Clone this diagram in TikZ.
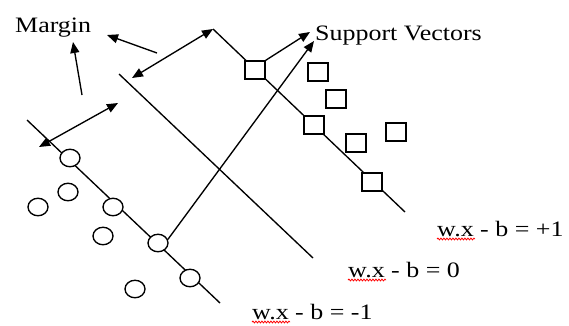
\documentclass[tikz,border=0pt]{standalone}
\usepackage{graphicx}
\usepackage{fontspec}
\setmainfont{Liberation Serif}
\usetikzlibrary{arrows.meta,shapes.geometric,decorations.pathmorphing,calc}
\newcommand\widetxt[1]{\scalebox{1.18}[1]{#1}}
\begin{document}
\begin{tikzpicture}[x=1pt,y=-1pt,
  ln/.style={line width=1.35pt,black},
  arr/.style={ln,-{Triangle[length=11pt,width=9pt]}},
  darr/.style={ln,{Triangle[length=11pt,width=9pt]}-{Triangle[length=11pt,width=9pt]}},
  ptc/.style={draw,ellipse,line width=1.35pt,fill=white,minimum width=20pt,minimum height=17.5pt,inner sep=0pt},
  pts/.style={draw,rectangle,line width=1.35pt,fill=white,minimum width=20pt,minimum height=18pt,inner sep=0pt},
  lbl/.style={inner sep=0pt,anchor=base west,font=\fontsize{22}{26}\selectfont},
  squig/.style={red,line width=0.8pt,decorate,decoration={snake,amplitude=0.9pt,segment length=3pt}}]
\useasboundingbox (0,0) rectangle (569,325);

% hyperplanes
\coordinate (m1a) at (27,120);  \coordinate (m1b) at (220,303);
\coordinate (z0a) at (119,74);  \coordinate (z0b) at (313,258);
\coordinate (p1a) at (213,29);  \coordinate (p1b) at (405,212);
\draw[ln] (m1a) -- (m1b);
\draw[ln] (z0a) -- (z0b);
\draw[ln] (p1a) -- (p1b);

% margin arrows
\coordinate (d1a) at (39,147);  \coordinate (d1b) at (118,103);
\coordinate (d2a) at (132,78);
\draw[darr] (d1a) -- (d1b);
\draw[darr] (d2a) -- (p1a);

% labels
\node[lbl] (margin) at (15,32) {\widetxt{Margin}};
\node[lbl] (sv) at (315,40) {\widetxt{Support Vectors}};
\node[lbl] (lp1) at (437,236) {\widetxt{w.x - b = +1}};
\node[lbl] (l0) at (348,277) {\widetxt{w.x - b = 0}};
\node[lbl] (lm1) at (252,319) {\widetxt{w.x - b = -1}};

\coordinate (ma1) at (82,95);  \coordinate (mt1) at (73,42);
\coordinate (ma2) at (157,53); \coordinate (mt2) at (107,35);
\draw[arr] (ma1) -- (mt1);
\draw[arr] (ma2) -- (mt2);

% circles
\node[ptc] (c1) at (70,158) {};
\node[ptc] (c2) at (68,192) {};
\node[ptc] (c3) at (38,207) {};
\node[ptc] (c4) at (113,207) {};
\node[ptc] (c5) at (103,236) {};
\node[ptc] (c6) at (158,243) {};
\node[ptc] (c7) at (190,278) {};
\node[ptc] (c8) at (135,289) {};

% squares
\node[pts] (s1) at (255,70) {};
\node[pts] (s2) at (318,72) {};
\node[pts] (s3) at (336,99) {};
\node[pts] (s4) at (314,125) {};
\node[pts] (s5) at (396,132) {};
\node[pts] (s6) at (356,143) {};
\node[pts] (s7) at (372,182) {};

% support vector arrows
\coordinate (svt1) at (310,32);
\coordinate (svt2) at (314,41);
\draw[arr] (s1.north east) -- (svt1);
\draw[arr] (c6.20) -- (svt2);

% spell-check squiggles
\draw[squig] ($(lp1.base west)+(0,3)$) -- ++(38,0);
\draw[squig] ($(l0.base west)+(0,3)$) -- ++(38,0);
\draw[squig] ($(lm1.base west)+(0,3)$) -- ++(38,0);
\end{tikzpicture}
\end{document}
